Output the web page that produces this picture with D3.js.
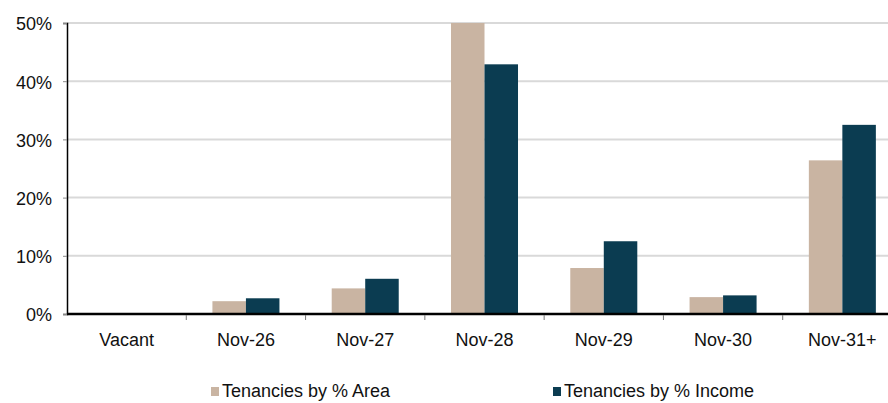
<!DOCTYPE html>
<html>
<head>
<meta charset="utf-8">
<script src="https://cdn.jsdelivr.net/npm/d3@7"></script>
<style>
  body { margin: 0; background: #fff; }
  svg { display: block; font-family: "Liberation Sans", Arial, sans-serif; }
</style>
</head>
<body>
<div id="chart"></div>
<script>
const categories = ['Vacant', 'Nov-26', 'Nov-27', 'Nov-28', 'Nov-29', 'Nov-30', 'Nov-31+'];
const areaValues = [0, 2.2, 4.4, 50, 7.9, 2.9, 26.4];
const incomeValues = [0, 2.7, 6.05, 42.9, 12.5, 3.2, 32.5];
const seriesNames = ['Tenancies by % Area', 'Tenancies by % Income'];
const yTicks = [0, 10, 20, 30, 40, 50];

const colors = ['#c9b4a2', '#0b3c51'];
const width = 888, height = 403;
const margin = { top: 23, left: 67, bottom: 89 };
const plotRight = 902; // last category runs a bit past the edge in the source

const data = categories.map((c, i) => ({ category: c, values: [areaValues[i], incomeValues[i]] }));

const svg = d3.select('#chart')
  .append('svg')
  .attr('width', width)
  .attr('height', height);

const x0 = d3.scaleBand()
  .domain(categories)
  .range([margin.left, plotRight]);

const x1 = d3.scaleBand()
  .domain([0, 1])
  .range([0, x0.bandwidth()])
  .paddingInner(0)
  .paddingOuter(0.78);

const y = d3.scaleLinear()
  .domain([0, 50])
  .range([height - margin.bottom, margin.top]);

// gridlines
svg.append('g')
  .selectAll('line')
  .data(yTicks.slice(1))
  .join('line')
  .attr('x1', margin.left)
  .attr('x2', width)
  .attr('y1', d => y(d))
  .attr('y2', d => y(d))
  .attr('stroke', '#d9d9d9')
  .attr('stroke-width', 2);

// y axis
const yAxis = svg.append('g')
  .attr('transform', `translate(${margin.left},0)`)
  .call(d3.axisLeft(y).tickValues(yTicks).tickFormat(d => d + '%').tickSize(4).tickPadding(11));
yAxis.select('.domain').attr('stroke', '#000').attr('stroke-width', 1.5);
yAxis.selectAll('.tick line').attr('stroke', '#888');
yAxis.selectAll('.tick text')
  .attr('fill', '#111')
  .style('font-size', '18px')
  .attr('dy', '0.38em');

// bars
const groups = svg.append('g')
  .selectAll('g')
  .data(data)
  .join('g')
  .attr('transform', d => `translate(${x0(d.category)},0)`);

groups.selectAll('rect')
  .data(d => d.values.map((v, k) => ({ k, v })))
  .join('rect')
  .attr('x', d => x1(d.k))
  .attr('width', x1.bandwidth())
  .attr('y', d => y(d.v))
  .attr('height', d => y(0) - y(d.v))
  .attr('fill', d => colors[d.k]);

// x axis
const xAxis = svg.append('g')
  .attr('transform', `translate(0,${y(0)})`);
xAxis.append('line')
  .attr('x1', margin.left)
  .attr('x2', width)
  .attr('stroke', '#000')
  .attr('stroke-width', 2.5);
xAxis.selectAll('.sep')
  .data(categories.slice(1))
  .join('line')
  .attr('class', 'sep')
  .attr('x1', d => x0(d))
  .attr('x2', d => x0(d))
  .attr('y1', 1)
  .attr('y2', 6)
  .attr('stroke', '#777');
xAxis.selectAll('text')
  .data(categories)
  .join('text')
  .attr('x', d => x0(d) + x0.bandwidth() / 2)
  .attr('y', 32)
  .attr('text-anchor', 'middle')
  .attr('fill', '#111')
  .style('font-size', '18px')
  .text(d => d);

// legend
const legendX = [211, 553];
const legend = svg.append('g')
  .selectAll('g')
  .data(seriesNames)
  .join('g')
  .attr('transform', (d, i) => `translate(${legendX[i]},387)`);
legend.append('rect')
  .attr('width', 8)
  .attr('height', 9)
  .attr('fill', (d, i) => colors[i]);
legend.append('text')
  .attr('x', 11)
  .attr('y', 10)
  .attr('fill', '#111')
  .style('font-size', '18px')
  .text(d => d);
</script>
</body>
</html>
